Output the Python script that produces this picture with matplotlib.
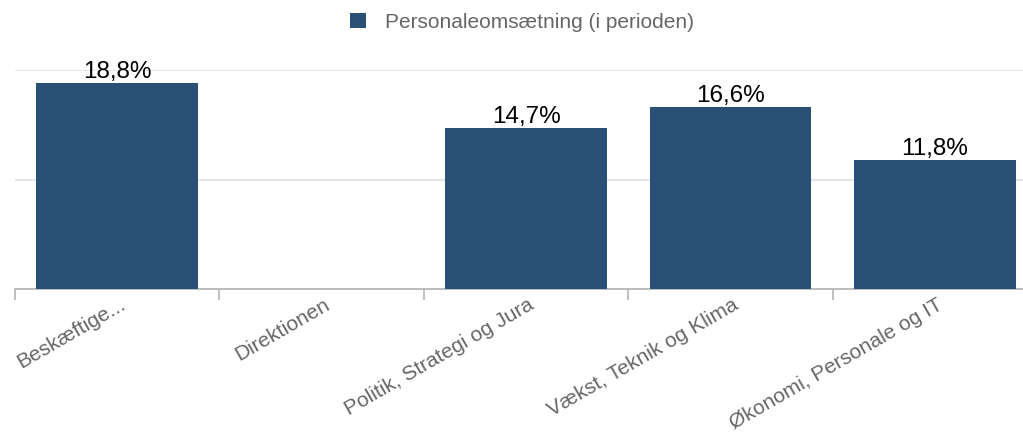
import numpy as np
import matplotlib
matplotlib.use("Agg")
from matplotlib import pyplot as plt
from matplotlib.patches import Patch

plt.rcParams['font.family'] = ['Liberation Sans', 'DejaVu Sans']

categories = ['Beskæftige...', 'Direktionen', 'Politik, Strategi og Jura',
              'Vækst, Teknik og Klima', 'Økonomi, Personale og IT']
values = [18.8, 0.0, 14.7, 16.6, 11.8]
series_name = 'Personaleomsætning (i perioden)'

bar_color = '#2b5075'
grid_color = '#e2e2e2'
axis_color = '#b4b4b4'
label_gray = '#666666'

W, H = 1023, 433
fig = plt.figure(figsize=(W / 100, H / 100), dpi=100)
ax = fig.add_axes([15 / W, (H - 289) / H, 5 * 204.4 / W, 219 / H])

x = np.arange(len(categories))
ax.bar(x, values, width=0.79, color=bar_color, zorder=3)

for xi, v in zip(x, values):
    if v > 0:
        ax.text(xi, v, f'{v:.1f}%'.replace('.', ','), ha='center', va='bottom',
                fontsize=17.5, color='black', zorder=4)

ax.set_xlim(-0.5, len(categories) - 0.5)
ax.set_ylim(0, 20)
ax.set_yticks([0, 10, 20])
ax.set_yticklabels([])
ax.tick_params(axis='y', length=0)
ax.yaxis.grid(True, color=grid_color, linewidth=1.2, zorder=0)

for s in ['top', 'right', 'left']:
    ax.spines[s].set_visible(False)
ax.spines['bottom'].set_color(axis_color)
ax.spines['bottom'].set_linewidth(1.2)

ax.set_xticks(x)
ax.set_xticklabels([])
ax.tick_params(axis='x', which='major', length=0)
ax.set_xticks(np.arange(-0.5, len(categories)), minor=True)
ax.tick_params(axis='x', which='minor', length=8, color=axis_color, width=1.2)

for xi, lab in zip(x, categories):
    ax.annotate(lab, xy=(xi, 0), xycoords=('data', 'axes fraction'),
                xytext=(2, -6), textcoords='offset pixels',
                rotation=30, rotation_mode='anchor', ha='right', va='top',
                fontsize=15, color=label_gray, annotation_clip=False)

handle = Patch(facecolor=bar_color, edgecolor='none')
fig.legend([handle], [series_name], loc='upper center', bbox_to_anchor=(0.51, 1.0),
           frameon=False, fontsize=15, labelcolor=label_gray,
           handlelength=0.8, handleheight=0.8, handletextpad=0.9,
           borderaxespad=0.2)

fig.savefig('out.png', dpi=100)
